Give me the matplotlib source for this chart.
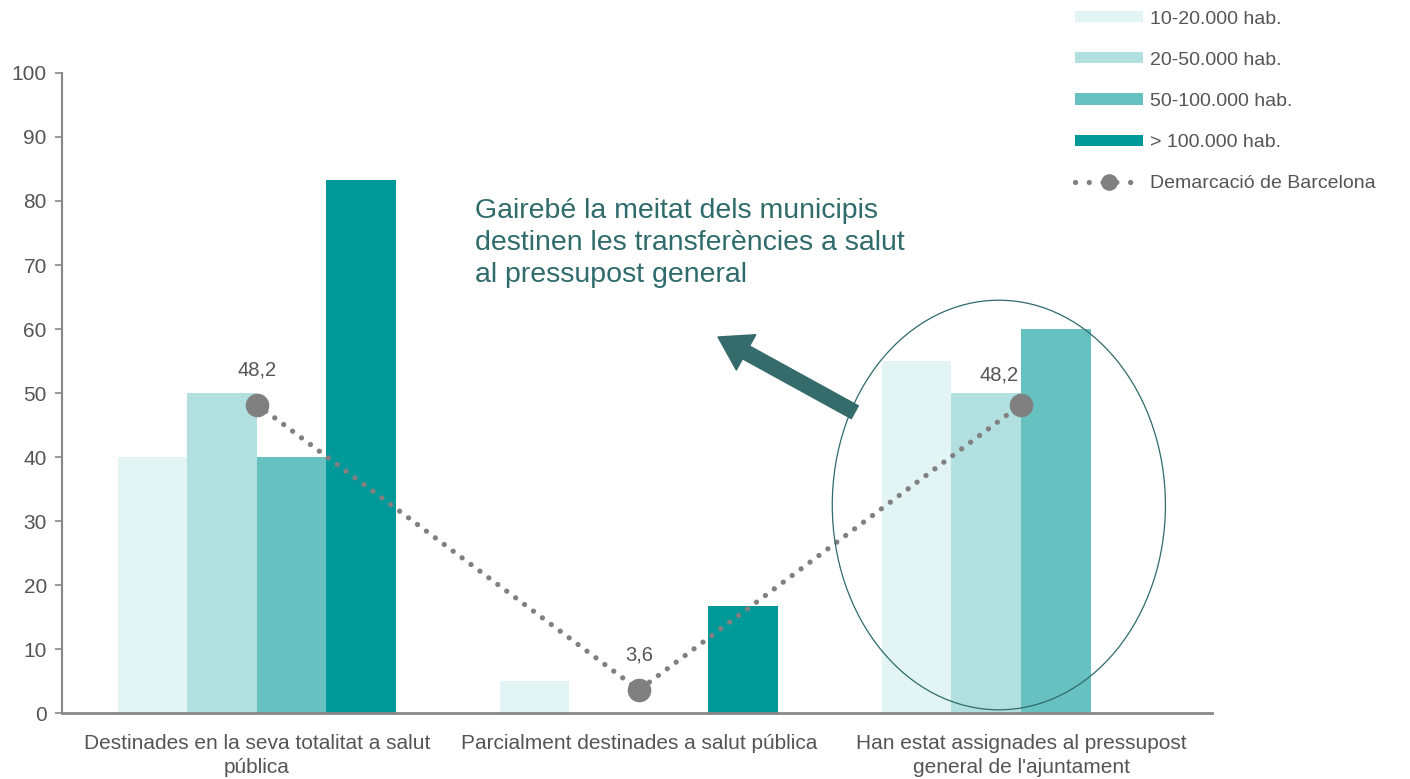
import matplotlib
matplotlib.use('Agg')
import matplotlib.pyplot as plt
import numpy as np
from matplotlib.patches import Ellipse
from matplotlib.lines import Line2D

categories = ["Destinades en la seva totalitat a salut\npública",
              "Parcialment destinades a salut pública",
              "Han estat assignades al pressupost\ngeneral de l'ajuntament"]
series_names = ["10-20.000 hab.", "20-50.000 hab.", "50-100.000 hab.", "> 100.000 hab."]
v_10_20 = [40, 5, 55]
v_20_50 = [50, 0, 50]
v_50_100 = [40, 0, 60]
v_100 = [83.3, 16.7, 0]
demarcacio = [48.2, 3.6, 48.2]
demarcacio_labels = ["48,2", "3,6", "48,2"]
colors = ['#E3F4F4', '#B2DFDF', '#66C1C0', '#009999']

plt.rcParams.update({
    "font.family": ["Liberation Sans", "DejaVu Sans"],
    "text.color": "#555555",
    "axes.labelcolor": "#555555",
    "xtick.color": "#555555",
    "ytick.color": "#555555",
})

fig = plt.figure(figsize=(14.1, 7.79), dpi=100)
ax = fig.add_axes([0.044, 0.0847, 0.8156, 0.8216])

x = np.arange(len(categories))
w = 0.182
handles = []
for i, (vals, name, c) in enumerate(zip([v_10_20, v_20_50, v_50_100, v_100], series_names, colors)):
    b = ax.bar(x + (i - 1.5) * w, vals, w, color=c, label=name, zorder=2)
    handles.append(b)

ax.plot(x, demarcacio, color='#808080', lw=3.8, linestyle=(0, (0.01, 2.1)),
        dash_capstyle='round', marker='o', markersize=16, zorder=4)
handles.append(Line2D([], [], color='#808080', lw=3.8, linestyle=(0, (0.01, 2.6)),
                      dash_capstyle='round', marker='o', markersize=11,
                      label='Demarcació de Barcelona'))
offsets = [(0, 25), (0, 25), (-16, 21)]
for xi, yi, lab, off in zip(x, demarcacio, demarcacio_labels, offsets):
    ax.annotate(lab, (xi, yi), xytext=off, textcoords='offset points',
                ha='center', va='center', fontsize=14.5, color='#555555')

ax.add_patch(Ellipse((1.942, 32.5), 0.872, 64, fill=False, edgecolor='#2F6B6B', lw=0.9, zorder=5))

ax.annotate('', xy=(1.207, 58.75), xytext=(1.565, 47.0),
            arrowprops=dict(arrowstyle='simple,head_width=2.9,head_length=2.3,tail_width=1.05',
                            color='#356B6B', shrinkA=0, shrinkB=0))
fig.text(0.337, 0.688, "Gairebé la meitat dels municipis\ndestinen les transferències a salut\nal pressupost general",
         fontsize=20.5, color='#2F6B6B', ha='left', va='center', linespacing=1.32)

ax.set_xlim(-0.51, 2.5)
ax.set_ylim(0, 100)
ax.set_yticks(range(0, 101, 10))
ax.set_xticks(x)
ax.set_xticklabels(categories, fontsize=15, linespacing=1.35)
ax.tick_params(axis='x', length=0, pad=15)
ax.tick_params(axis='y', labelsize=15, length=5, color='#888888', width=1.2, pad=6)
for s in ['top', 'right']:
    ax.spines[s].set_visible(False)
ax.spines['left'].set_color('#888888')
ax.spines['left'].set_linewidth(1.5)
ax.spines['bottom'].set_color('#888888')
ax.spines['bottom'].set_linewidth(2)

fig.legend(handles=handles, loc='upper left', bbox_to_anchor=(0.752, 1.005), frameon=False,
           fontsize=14, handlelength=3.5, handleheight=0.5, labelspacing=1.24,
           handletextpad=0.35, borderpad=0.25)

fig.savefig('out.png', dpi=100, facecolor='white')
